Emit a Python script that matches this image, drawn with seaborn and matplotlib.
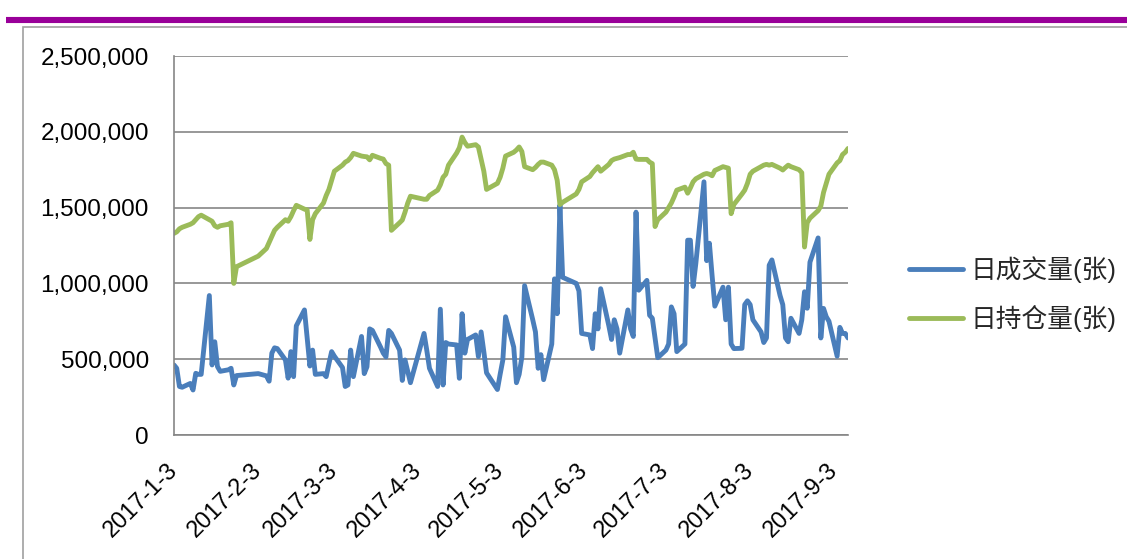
import pandas as pd
import numpy as np
import matplotlib.pyplot as plt
from matplotlib.patches import Rectangle
from matplotlib.lines import Line2D
import seaborn as sns

# trading days (2017)
dates = [
    '2017-1-3', '2017-1-4', '2017-1-5', '2017-1-6', '2017-1-9', '2017-1-10', '2017-1-11', '2017-1-12',
    '2017-1-13', '2017-1-16', '2017-1-17', '2017-1-18', '2017-1-19', '2017-1-20', '2017-1-23', '2017-1-24',
    '2017-1-25', '2017-1-26', '2017-2-3', '2017-2-6', '2017-2-7', '2017-2-8', '2017-2-9', '2017-2-10',
    '2017-2-13', '2017-2-14', '2017-2-15', '2017-2-16', '2017-2-17', '2017-2-20', '2017-2-21', '2017-2-22',
    '2017-2-23', '2017-2-24', '2017-2-27', '2017-2-28', '2017-3-1', '2017-3-2', '2017-3-3', '2017-3-6',
    '2017-3-7', '2017-3-8', '2017-3-9', '2017-3-10', '2017-3-13', '2017-3-14', '2017-3-15', '2017-3-16',
    '2017-3-17', '2017-3-20', '2017-3-21', '2017-3-22', '2017-3-23', '2017-3-24', '2017-3-27', '2017-3-28',
    '2017-3-29', '2017-3-30', '2017-3-31', '2017-4-5', '2017-4-6', '2017-4-7', '2017-4-10', '2017-4-11',
    '2017-4-12', '2017-4-13', '2017-4-14', '2017-4-17', '2017-4-18', '2017-4-19', '2017-4-20', '2017-4-21',
    '2017-4-24', '2017-4-25', '2017-4-26', '2017-4-27', '2017-4-28', '2017-5-2', '2017-5-3', '2017-5-4',
    '2017-5-5', '2017-5-8', '2017-5-9', '2017-5-10', '2017-5-11', '2017-5-12', '2017-5-15', '2017-5-16',
    '2017-5-17', '2017-5-18', '2017-5-19', '2017-5-22', '2017-5-23', '2017-5-24', '2017-5-25', '2017-5-26',
    '2017-5-31', '2017-6-1', '2017-6-2', '2017-6-5', '2017-6-6', '2017-6-7', '2017-6-8', '2017-6-9',
    '2017-6-12', '2017-6-13', '2017-6-14', '2017-6-15', '2017-6-16', '2017-6-19', '2017-6-20', '2017-6-21',
    '2017-6-22', '2017-6-23', '2017-6-26', '2017-6-27', '2017-6-28', '2017-6-29', '2017-6-30', '2017-7-3',
    '2017-7-4', '2017-7-5', '2017-7-6', '2017-7-7', '2017-7-10', '2017-7-11', '2017-7-12', '2017-7-13',
    '2017-7-14', '2017-7-17', '2017-7-18', '2017-7-19', '2017-7-20', '2017-7-21', '2017-7-24', '2017-7-25',
    '2017-7-26', '2017-7-27', '2017-7-28', '2017-7-31', '2017-8-1', '2017-8-2', '2017-8-3', '2017-8-4',
    '2017-8-7', '2017-8-8', '2017-8-9', '2017-8-10', '2017-8-11', '2017-8-14', '2017-8-15', '2017-8-16',
    '2017-8-17', '2017-8-18', '2017-8-21', '2017-8-22', '2017-8-23', '2017-8-24', '2017-8-25', '2017-8-28',
    '2017-8-29', '2017-8-30', '2017-8-31', '2017-9-1', '2017-9-4', '2017-9-5', '2017-9-6', '2017-9-7',
    '2017-9-8',
]

# 日成交量, thousands of 张
volume_k = [
    462, 440, 320, 315, 340, 297, 407, 400,
    400, 920, 462, 615, 451, 420, 430, 440,
    330, 392, 405, 390, 355, 540, 575, 570,
    495, 375, 550, 385, 720, 825, 640, 455,
    560, 400, 405, 385, 470, 550, 520, 445,
    320, 330, 560, 385, 650, 405, 450, 700,
    690, 580, 540, 515, 690, 670, 560, 360,
    495, 420, 345, 670, 560, 440, 320, 830,
    330, 610, 600, 594, 374, 800, 540, 630,
    660, 517, 680, 550, 410, 300, 400, 495,
    780, 580, 345, 400, 515, 985, 760, 680,
    440, 530, 365, 600, 1030, 800, 1517, 1040,
    1000, 950, 670, 660, 570, 800, 700, 965,
    720, 630, 760, 700, 540, 825, 700, 650,
    1470, 955, 1020, 790, 770, 640, 510, 560,
    600, 845, 800, 550, 600, 1285, 1285, 980,
    1130, 1670, 1150, 1265, 1050, 850, 975, 760,
    975, 600, 570, 572, 860, 885, 860, 760,
    680, 610, 640, 1120, 1155, 920, 860, 640,
    615, 770, 670, 760, 945, 836, 1140, 1300,
    640, 835, 780, 750, 520, 710, 670, 670,
    640,
]

# 日持仓量, thousands of 张
open_int_k = [
    1330, 1340, 1360, 1370, 1390, 1400, 1420, 1440,
    1450, 1420, 1410, 1380, 1370, 1380, 1390, 1400,
    1000, 1110, 1180, 1230, 1270, 1310, 1350, 1370,
    1420, 1410, 1440, 1480, 1515, 1490, 1485, 1290,
    1420, 1460, 1530, 1580, 1620, 1680, 1740, 1780,
    1800, 1810, 1830, 1858, 1840, 1837, 1835, 1815,
    1845, 1825, 1820, 1790, 1780, 1350, 1400, 1418,
    1470, 1530, 1575, 1555, 1555, 1580, 1615, 1650,
    1700, 1720, 1780, 1860, 1895, 1965, 1930, 1905,
    1915, 1900, 1820, 1740, 1620, 1660, 1700, 1760,
    1840, 1865, 1880, 1900, 1870, 1770, 1750, 1765,
    1785, 1800, 1800, 1780, 1750, 1680, 1520, 1535,
    1590, 1620, 1670, 1705, 1730, 1750, 1770, 1740,
    1785, 1810, 1820, 1825, 1830, 1850, 1850, 1865,
    1820, 1818, 1818, 1800, 1790, 1375, 1420, 1470,
    1500, 1530, 1570, 1615, 1635, 1595, 1630, 1670,
    1690, 1720, 1725, 1720, 1710, 1745, 1770, 1765,
    1760, 1460, 1520, 1590, 1615, 1660, 1720, 1740,
    1770, 1780, 1785, 1780, 1785, 1760, 1748, 1765,
    1780, 1770, 1750, 1730, 1240, 1400, 1430, 1480,
    1510, 1600, 1660, 1720, 1795, 1810, 1850, 1865,
    1890,
]

series_names = ['日成交量(张)', '日持仓量(张)']
colors = ['#4A7EBB', '#9BBB59']
tick_labels = ['2017-1-3', '2017-2-3', '2017-3-3', '2017-4-3', '2017-5-3',
               '2017-6-3', '2017-7-3', '2017-8-3', '2017-9-3']
y_ticks = [0, 500000, 1000000, 1500000, 2000000, 2500000]

df = pd.DataFrame({
    'date': pd.to_datetime(dates, format='%Y-%m-%d'),
    series_names[0]: np.array(volume_k) * 1000,
    series_names[1]: np.array(open_int_k) * 1000,
})
long_df = df.melt(id_vars='date', var_name='series', value_name='value')

sns.set_style('white')
plt.rcParams['font.family'] = ['Liberation Sans', 'Noto Sans CJK SC', 'DejaVu Sans']

W, H = 1127, 559
fig = plt.figure(figsize=(W / 100, H / 100), dpi=100)

# top purple rule and chart frame
fig.add_artist(Line2D([6 / W, 1], [1 - 20 / H, 1 - 20 / H], transform=fig.transFigure,
                      color='#990099', lw=4.4, solid_capstyle='butt'))
fig.add_artist(Rectangle((23 / W, -0.1), 1.2, 1.1 - 27 / H, transform=fig.transFigure,
                         fill=False, edgecolor='#A0A0A0', lw=1.2))

ax = fig.add_axes([174 / W, 1 - 435 / H, (848 - 174) / W, (435 - 56) / H])
sns.lineplot(data=long_df, x='date', y='value', hue='series', hue_order=series_names,
             palette=colors, linewidth=3.5, ax=ax, legend=False)

gray = '#868686'
ax.set_ylim(0, 2500000)
ax.set_xlim(df['date'].iloc[0], df['date'].iloc[-1])
ax.set_yticks(y_ticks)
ax.set_yticklabels([f'{v:,}' for v in y_ticks])
ax.set_xticks(pd.to_datetime(tick_labels, format='%Y-%m-%d'))
ax.set_xticklabels(tick_labels, rotation=45, ha='right', va='center', rotation_mode='anchor')
ax.set_xlabel('')
ax.set_ylabel('')
ax.yaxis.grid(True, color=gray, lw=1.2)
ax.set_axisbelow(True)
for side in ['top', 'right']:
    ax.spines[side].set_visible(False)
for side in ['left', 'bottom']:
    ax.spines[side].set_color(gray)
    ax.spines[side].set_linewidth(1.2)
ax.tick_params(axis='y', length=6, width=1.2, color=gray, pad=12, labelsize=17.5, labelcolor='black')
ax.tick_params(axis='x', length=5, width=1.2, color=gray, pad=18, labelsize=17, labelcolor='black')

handles = [Line2D([], [], color=c, lw=3.5) for c in colors]
fig.legend(handles, series_names, loc='center left', bbox_to_anchor=(909 / W, 1 - 294 / H),
           frameon=False, fontsize=18.5, handlelength=2.1, handletextpad=0.3,
           labelspacing=0.85, borderpad=0, borderaxespad=0)

fig.savefig('out.png', dpi=100)
